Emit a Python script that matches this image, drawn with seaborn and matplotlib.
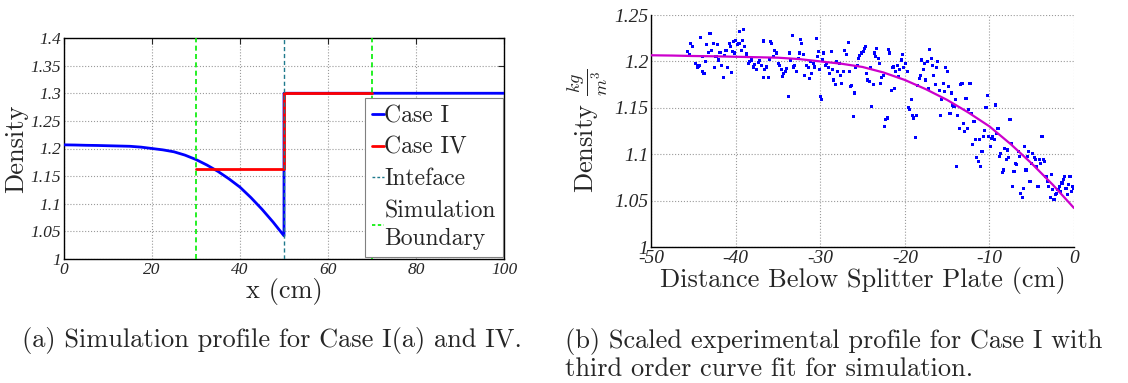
import numpy as np
import pandas as pd
import matplotlib
matplotlib.use("Agg")
import matplotlib.pyplot as plt
import seaborn as sns
from matplotlib.lines import Line2D

# ---------------- data ----------------
# (a) simulation profile
case1_x = [0, 2.5, 5, 7.5, 10, 12.5, 15, 17.5, 20, 22.5, 25, 27.5, 30, 32.5, 35,
           37.5, 40, 42.5, 45, 47.5, 50, 50, 100]
case1_density = [1.2066, 1.2063, 1.2058, 1.2055, 1.2050, 1.2045, 1.2040, 1.2025,
                 1.2000, 1.1975, 1.1940, 1.1880, 1.1800, 1.1700, 1.1585, 1.1450,
                 1.1300, 1.1110, 1.0900, 1.0670, 1.0420, 1.3000, 1.3000]
case4_x = [30, 50, 50, 70]
case4_density = [1.162, 1.162, 1.300, 1.300]
interface_x = 50
boundary_x = [30, 70]

# (b) experimental profile (scatter) and third order fit
exp_dist = [
    -45.67, -45.28, -45.12, -45.47, -44.69, -44.53, -44.29, -44.13, -43.9, -43.74,
    -43.58, -43.43, -43.23, -43.03, -42.83, -42.64, -42.52, -42.32, -42.17, -41.97,
    -41.85, -41.65, -41.46, -41.26, -41.14, -40.98, -40.75, -40.59, -40.47, -40.35,
    -40.2, -40.08, -43.9, -44.4,
    -39.96, -39.8, -39.6, -39.49, -39.29, -39.17, -39.02, -38.9, -38.7, -38.5,
    -38.31, -38.11, -37.91, -37.72, -37.52, -37.32, -37.13, -36.93, -36.73, -36.65,
    -36.54, -36.34, -36.14, -36.02, -35.87, -35.71, -35.55, -35.35, -35.16, -34.96,
    -34.76, -34.57, -34.45, -34.29, -34.13, -33.98, -33.78, -33.58, -33.46, -33.31,
    -33.19, -32.99, -32.8, -32.6, -32.48, -32.32, -32.17, -32.01, -31.81, -31.61,
    -31.42, -31.3, -31.14, -30.98, -30.83, -30.63, -30.43, -30.31, -30.2, -30.08,
    -29.96, -29.84, -29.72, -29.57, -29.41, -29.25, -29.06, -28.86, -28.7, -28.54,
    -28.39, -28.23, -28.07, -27.91, -27.76, -27.6, -27.44, -27.28, -27.09, -26.89,
    -26.69, -26.57, -26.42, -26.26, -26.1, -25.94, -25.79, -25.63, -25.47, -25.31,
    -25.12, -24.92, -24.76, -24.65, -24.53, -24.37, -24.21, -24.06, -23.9, -23.74,
    -23.58, -23.43, -23.35, -23.15, -23.03, -22.87, -22.72, -22.56, -22.4, -22.24,
    -22.09, -21.93, -21.77, -21.61, -21.46, -21.3, -21.18, -21.06, -20.91, -20.75,
    -20.59, -20.39, -20.28, -20.12,
    -19.88, -19.72, -19.57, -19.41, -19.25, -19.09, -18.93, -18.77, -18.62, -18.46,
    -18.3, -18.14, -17.98, -17.83, -17.67, -17.51, -17.35, -17.19, -17.04, -16.88,
    -16.72, -16.56, -16.4, -16.25, -16.09, -15.93, -15.77, -15.61, -15.45, -15.3,
    -15.14, -14.98, -14.82, -14.66, -14.5, -14.35, -14.19, -14.03, -13.87, -13.72,
    -13.56, -13.4, -13.24, -13.08, -12.92, -12.77, -12.61, -12.45, -12.29, -12.13,
    -11.98, -11.82, -11.66, -11.5, -11.34, -11.19, -11.03, -10.87, -10.71, -10.55,
    -10.4, -10.24, -10.08,
    -9.92, -9.76, -9.61, -9.45, -9.29, -9.13, -8.98, -8.82, -8.66, -8.5,
    -8.35, -8.19, -8.03, -7.87, -7.72, -7.56, -7.4, -7.24, -7.09, -6.93,
    -6.77, -6.61, -6.46, -6.3, -6.14, -5.98, -5.83, -5.67, -5.51, -5.35,
    -5.2, -5.04, -4.88, -4.72, -4.57, -4.41, -4.25, -4.09, -3.94, -3.78,
    -3.62, -3.46, -3.31, -3.15, -2.99, -2.83, -2.68, -2.52, -2.36, -2.2,
    -2.05, -1.89, -1.73, -1.57, -1.42, -1.26, -1.1, -0.94, -0.79, -0.63,
    -0.47, -0.31, -0.16, -0.08]
exp_density = [
    1.2105, 1.2195, 1.216, 1.207, 1.198, 1.194, 1.196, 1.2256, 1.205, 1.187,
    1.200, 1.218, 1.210, 1.230, 1.212, 1.2195, 1.193, 1.205, 1.218, 1.2015,
    1.2095, 1.196, 1.183, 1.206, 1.212, 1.193, 1.2195, 1.216, 1.188, 1.2105,
    1.221, 1.209, 1.189, 1.195,
    1.223, 1.218, 1.2195, 1.232, 1.212, 1.223, 1.234, 1.216, 1.208, 1.198,
    1.200, 1.2015, 1.194, 1.197, 1.191, 1.199, 1.201, 1.196, 1.183, 1.222,
    1.191, 1.194, 1.183, 1.202, 1.221, 1.2195, 1.205, 1.212, 1.209, 1.198,
    1.196, 1.191, 1.184, 1.187, 1.189, 1.192, 1.162, 1.209, 1.201, 1.228,
    1.194, 1.196, 1.189, 1.203, 1.209, 1.224, 1.2195, 1.207, 1.185, 1.196,
    1.193, 1.182, 1.200, 1.187, 1.198, 1.194, 1.225, 1.205, 1.2105, 1.191,
    1.162, 1.159, 1.2015, 1.209, 1.196, 1.198, 1.193, 1.187, 1.2105, 1.191,
    1.180, 1.175, 1.200, 1.189, 1.198, 1.185, 1.176, 1.189, 1.212, 1.207,
    1.220, 1.189, 1.173, 1.174, 1.141, 1.166, 1.194, 1.196, 1.203, 1.206,
    1.209, 1.211, 1.214, 1.216, 1.187, 1.180, 1.178, 1.193, 1.151, 1.175,
    1.209, 1.205, 1.214, 1.203, 1.198, 1.176, 1.183, 1.185, 1.130, 1.137,
    1.139, 1.213, 1.209, 1.169, 1.193, 1.194, 1.171, 1.189, 1.196, 1.184,
    1.191, 1.2015, 1.207, 1.193,
    1.198, 1.189, 1.150, 1.148, 1.1585, 1.142, 1.139, 1.118, 1.142, 1.174,
    1.182, 1.185, 1.2015, 1.191, 1.198, 1.180, 1.200, 1.171, 1.213, 1.203,
    1.196, 1.185, 1.175, 1.193, 1.200, 1.169, 1.142, 1.1585, 1.176, 1.1675,
    1.193, 1.189, 1.173, 1.144, 1.166, 1.153, 1.151, 1.1585, 1.087, 1.142,
    1.128, 1.175, 1.176, 1.133, 1.1245, 1.160, 1.128, 1.148, 1.176, 1.144,
    1.110, 1.135, 1.1155, 1.096, 1.092, 1.1155, 1.087, 1.103, 1.119, 1.126,
    1.150, 1.163, 1.119,
    1.108, 1.117, 1.119, 1.1155, 1.153, 1.1225, 1.128, 1.0975, 1.101, 1.080,
    1.083, 1.1065, 1.094, 1.1045, 1.096, 1.137, 1.112, 1.065, 1.081, 1.090,
    1.089, 1.103, 1.0975, 1.058, 1.053, 1.0635, 1.108, 1.083, 1.0975, 1.103,
    1.071, 1.090, 1.101, 1.096, 1.094, 1.087, 1.065, 1.094, 1.090, 1.119,
    1.094, 1.092, 1.076, 1.071, 1.065, 1.053, 1.078, 1.062, 1.051, 1.0565,
    1.058, 1.062, 1.065, 1.060, 1.069, 1.0725, 1.076, 1.0635, 1.0565, 1.067,
    1.076, 1.060, 1.065, 1.0635]
fit_dist = [-50, -47.5, -45, -42.5, -40, -37.5, -35, -32.5, -30, -27.5, -25,
            -22.5, -20, -17.5, -15, -12.5, -10, -7.5, -5, -2.5, 0]
fit_density = [1.2066, 1.2063, 1.2058, 1.2055, 1.2050, 1.2045, 1.2040, 1.2025,
               1.2000, 1.1975, 1.1940, 1.1880, 1.1800, 1.1700, 1.1585, 1.1450,
               1.1300, 1.1110, 1.0900, 1.0670, 1.0420]

left_yticks = [1, 1.05, 1.1, 1.15, 1.2, 1.25, 1.3, 1.35, 1.4]
left_yticklabels = ["1", "1.05", "1.1", "1.15", "1.2", "1.25", "1.3", "1.35", "1.4"]
left_xticks = [0, 20, 40, 60, 80, 100]
left_xticklabels = ["0", "20", "40", "60", "80", "100"]
right_yticks = [1, 1.05, 1.1, 1.15, 1.2, 1.25]
right_yticklabels = ["1", "1.05", "1.1", "1.15", "1.2", "1.25"]
right_xticks = [-50, -40, -30, -20, -10, 0]
right_xticklabels = ["-50", "-40", "-30", "-20", "-10", "0"]

caption_a = "(a) Simulation profile for Case I(a) and IV."
caption_b = "(b) Scaled experimental profile for Case I with\nthird order curve fit for simulation."

# ---------------- style ----------------
sns.set_style("white")
plt.rcParams["font.family"] = ["Liberation Serif", "DejaVu Serif"]
plt.rcParams["mathtext.fontset"] = "cm"

BLUE = "#0000ff"
RED = "#ff0000"
TEAL = "#1f7a8c"
GREEN = "#00ee00"
MAGENTA = "#cc00cc"
GRIDC = "#9a9a9a"

fig = plt.figure(figsize=(11.28, 3.83), dpi=100)
axA = fig.add_axes([64 / 1128, 1 - 259 / 383, 440 / 1128, 221 / 383])
axB = fig.add_axes([651 / 1128, 1 - 247 / 383, 423 / 1128, 232 / 383])

tickfont = dict(family="Liberation Serif", style="italic")
labfam = "cmr10"

# ---- panel (a) ----
dfc1 = pd.DataFrame({"x": case1_x, "d": case1_density})
dfc4 = pd.DataFrame({"x": case4_x, "d": case4_density})
sns.lineplot(data=dfc1, x="x", y="d", sort=False, estimator=None, ax=axA,
             color=BLUE, lw=2.0, zorder=3)
sns.lineplot(data=dfc4, x="x", y="d", sort=False, estimator=None, ax=axA,
             color=RED, lw=2.0, zorder=4)
axA.axvline(interface_x, color=TEAL, lw=1.0, ls=(0, (3, 2)), zorder=5)
for bx in boundary_x:
    axA.axvline(bx, color=GREEN, lw=1.2, ls=(0, (3, 2)), zorder=5)
axA.set_xlim(0, 100)
axA.set_ylim(1, 1.4)
axA.set_xticks(left_xticks)
axA.set_xticklabels(left_xticklabels, fontsize=12.5, **tickfont)
axA.set_yticks(left_yticks)
axA.set_yticklabels(left_yticklabels, fontsize=12.5, **tickfont)
axA.grid(True, color=GRIDC, ls=":", lw=0.8)
axA.tick_params(direction="in", length=4, top=True, right=True, pad=2)
for s in axA.spines.values():
    s.set_color("black")
    s.set_linewidth(1.0)
axA.set_xlabel("x (cm)", fontsize=19, family=labfam, labelpad=0)
axA.set_ylabel("Density", fontsize=19, family=labfam, labelpad=2)
handles = [Line2D([], [], color=BLUE, lw=2),
           Line2D([], [], color=RED, lw=2),
           Line2D([], [], color=TEAL, lw=1, ls=(0, (2, 1.5))),
           Line2D([], [], color=GREEN, lw=1.2, ls=(0, (2, 1.5)))]
leg = axA.legend(handles, ["Case I", "Case IV", "Inteface", "Simulation\nBoundary"],
                 loc="upper right", bbox_to_anchor=(0.997, 0.728), borderaxespad=0,
                 handlelength=0.5, handletextpad=0.02, labelspacing=0.4,
                 borderpad=0.3, fancybox=False, framealpha=1,
                 prop=dict(family=labfam, size=17))
leg.get_texts()[3].set_linespacing(1.35)
leg.get_frame().set_edgecolor("#808080")
leg.get_frame().set_linewidth(0.8)
leg.set_zorder(10)

# ---- panel (b) ----
dfe = pd.DataFrame({"dist": exp_dist, "d": exp_density})
dff = pd.DataFrame({"dist": fit_dist, "d": fit_density})
sns.scatterplot(data=dfe, x="dist", y="d", ax=axB, color=BLUE, s=5, marker="s",
                edgecolor="none", zorder=3)
sns.lineplot(data=dff, x="dist", y="d", ax=axB, color=MAGENTA, lw=1.6,
             sort=False, estimator=None, zorder=4)
axB.set_xlim(-50, 0)
axB.set_ylim(1, 1.25)
axB.set_xticks(right_xticks)
axB.set_xticklabels(right_xticklabels, fontsize=14, **tickfont)
axB.set_yticks(right_yticks)
axB.set_yticklabels(right_yticklabels, fontsize=14, **tickfont)
axB.grid(True, color=GRIDC, ls=":", lw=0.8)
axB.tick_params(direction="in", length=4, pad=2)
for k in ["top", "right"]:
    axB.spines[k].set_visible(False)
for k in ["left", "bottom"]:
    axB.spines[k].set_color("black")
    axB.spines[k].set_linewidth(1.0)
axB.set_xlabel("Distance Below Splitter Plate (cm)", fontsize=19, family=labfam,
               labelpad=0)
axB.set_ylabel(r"Density $\frac{kg}{m^3}$", fontsize=19, family=labfam, labelpad=3)

fig.text(22 / 1128, 1 - 340 / 383, caption_a, fontsize=19, family=labfam,
         ha="left", va="center")
fig.text(565 / 1128, 1 - 328 / 383, caption_b, fontsize=19, family=labfam,
         ha="left", va="top", linespacing=1.1)

fig.savefig("out.png", dpi=100)
